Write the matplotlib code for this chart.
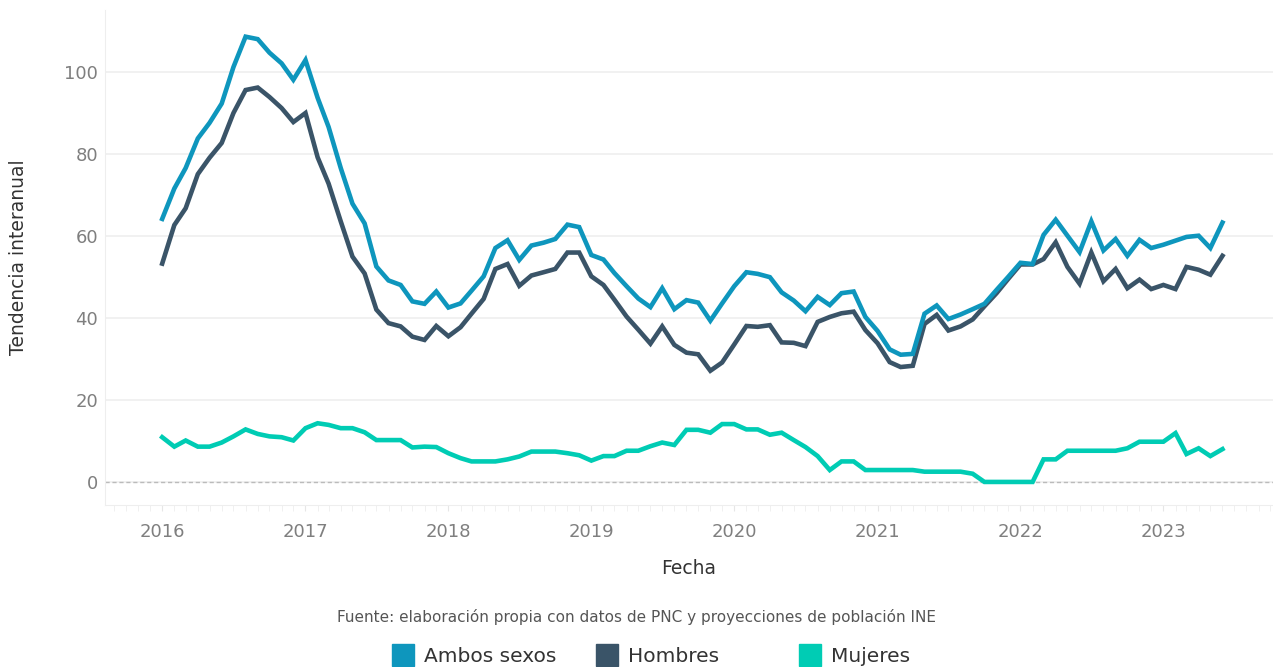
import matplotlib
matplotlib.use("Agg")
import matplotlib.pyplot as plt
import matplotlib.dates as mdates
from matplotlib.patches import Rectangle
import pandas as pd

# Tendencia interanual mensual, ene 2016 - jun 2023
fechas = pd.date_range("2016-01-01", periods=90, freq="MS")

ambos = [64.1, 71.5, 76.5, 83.7, 87.5, 92.2, 101.1, 108.5, 107.9, 104.6,
         102.0, 98.0, 102.8, 93.6, 86.5, 76.5, 67.8, 63.0, 52.5, 49.1,
         48.0, 44.0, 43.4, 46.4, 42.5, 43.5, 46.6, 50.1, 57.0, 58.9,
         54.1, 57.6, 58.3, 59.2, 62.7, 62.1, 55.3, 54.2, 50.9, 47.7,
         44.7, 42.6, 47.2, 42.1, 44.3, 43.7, 39.3, 43.5, 47.7, 51.1,
         50.7, 49.9, 46.2, 44.2, 41.6, 45.1, 43.1, 46.0, 46.4, 40.2,
         36.8, 32.3, 31.0, 31.2, 41.0, 43.0, 39.7, 40.8, 42.1, 43.4,
         46.8, 50.0, 53.4, 53.1, 60.2, 63.9, 60.0, 56.0, 63.5, 56.4,
         59.2, 55.1, 59.0, 57.0, 57.8, 58.8, 59.7, 60.0, 57.0, 63.2]

hombres = [53.2, 62.6, 66.7, 75.0, 79.0, 82.6, 89.9, 95.5, 96.1, 93.8,
           91.1, 87.7, 89.9, 79.1, 72.7, 63.5, 54.9, 50.8, 42.0, 38.7,
           37.9, 35.4, 34.6, 38.0, 35.5, 37.7, 41.0, 44.6, 51.9, 53.1,
           47.8, 50.3, 51.1, 51.9, 55.9, 55.9, 50.1, 48.0, 44.4, 40.3,
           37.1, 33.7, 37.9, 33.4, 31.5, 31.1, 27.1, 29.1, 33.5, 38.0,
           37.8, 38.2, 34.0, 33.9, 33.1, 39.0, 40.2, 41.1, 41.5, 37.0,
           33.8, 29.2, 28.0, 28.3, 38.5, 40.7, 36.9, 37.9, 39.6, 42.8,
           46.0, 49.5, 53.0, 53.0, 54.3, 58.4, 52.4, 48.3, 55.9, 48.9,
           51.9, 47.2, 49.3, 47.0, 48.0, 47.0, 52.4, 51.7, 50.5, 55.1]

mujeres = [10.9, 8.6, 10.1, 8.6, 8.6, 9.6, 11.1, 12.8, 11.7, 11.1,
           10.9, 10.1, 13.1, 14.3, 13.9, 13.1, 13.1, 12.1, 10.2, 10.2,
           10.2, 8.4, 8.6, 8.5, 7.0, 5.8, 5.0, 5.0, 5.0, 5.5,
           6.2, 7.4, 7.4, 7.4, 7.0, 6.5, 5.2, 6.3, 6.3, 7.6,
           7.6, 8.7, 9.6, 9.0, 12.7, 12.7, 12.0, 14.1, 14.1, 12.8,
           12.8, 11.5, 12.0, 10.2, 8.5, 6.3, 2.9, 5.0, 5.0, 2.9,
           2.9, 2.9, 2.9, 2.9, 2.5, 2.5, 2.5, 2.5, 2.0, 0.0,
           0.0, 0.0, 0.0, 0.0, 5.5, 5.5, 7.6, 7.6, 7.6, 7.6,
           7.6, 8.2, 9.8, 9.8, 9.8, 11.9, 6.8, 8.2, 6.3, 8.0]

nombres = ["Ambos sexos", "Hombres", "Mujeres"]
colores = ["#0e96bd", "#3a5468", "#00ccb4"]
fuente = "Fuente: elaboración propia con datos de PNC y proyecciones de población INE"

fig = plt.figure(figsize=(12.73, 6.67), dpi=100)
ax = fig.add_axes([0.0825, 0.243, 0.9175, 0.742])

ax.plot(fechas, hombres, color=colores[1], linewidth=3.3, zorder=3,
        solid_joinstyle="miter")
ax.plot(fechas, ambos, color=colores[0], linewidth=3.3, zorder=4,
        solid_joinstyle="miter")
ax.plot(fechas, mujeres, color=colores[2], linewidth=3.3, zorder=4,
        solid_joinstyle="miter")
ax.axhline(0, color="#bbbbbb", linewidth=1, linestyle=(0, (3, 2)), zorder=2)

ax.set_xlim(pd.Timestamp("2015-08-08"), pd.Timestamp("2023-10-08"))
ax.set_ylim(-5.6, 115)
ax.set_yticks([0, 20, 40, 60, 80, 100])
ax.grid(axis="y", color="#efefef", linewidth=1.2)
ax.set_axisbelow(True)

ax.xaxis.set_major_locator(mdates.YearLocator())
ax.xaxis.set_major_formatter(mdates.DateFormatter("%Y"))
ax.xaxis.set_minor_locator(mdates.MonthLocator())

for lado in ["top", "right"]:
    ax.spines[lado].set_visible(False)
ax.spines["left"].set_color("#eeeeee")
ax.spines["bottom"].set_color("#eeeeee")

ax.tick_params(axis="x", which="major", length=4, color="#e6e6e6",
               labelsize=13, labelcolor="#7f7f7f", pad=9)
ax.tick_params(axis="x", which="minor", length=4, color="#eeeeee")
ax.tick_params(axis="y", length=0, labelsize=13, labelcolor="#7f7f7f", pad=5)

ax.set_xlabel("Fecha", fontsize=13.5, color="#333333", labelpad=13)
ax.set_ylabel("Tendencia interanual", fontsize=13.5, color="#333333", labelpad=26)

fig.text(0.5, 1 - 617 / 667, fuente, ha="center", va="center",
         fontsize=11, color="#555555")

# leyenda con columnas de ancho fijo
xs = [392, 596, 799]
for x, nombre, color in zip(xs, nombres, colores):
    fig.add_artist(Rectangle((x / 1273, 1 / 667), 22 / 1273, 22 / 667,
                             transform=fig.transFigure, color=color))
    fig.text((x + 32) / 1273, 1 - 656 / 667, nombre, ha="left", va="center",
             fontsize=14.5, color="#333333")

fig.savefig("out.png", dpi=100)
